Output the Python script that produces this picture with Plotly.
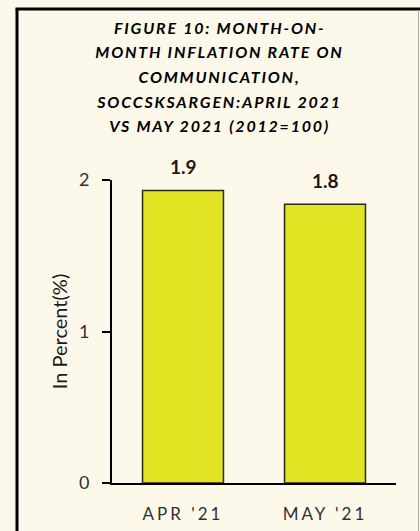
import json
import plotly.graph_objects as go

categories = ["APR '21", "MAY '21"]
values = [1.93, 1.84]
labels = ["1.9", "1.8"]
title_lines = [
    "FIGURE 10: MONTH-ON-",
    "MONTH INFLATION RATE ON",
    "COMMUNICATION,",
    "SOCCSKSARGEN:APRIL 2021",
    "VS MAY 2021 (2012=100)",
]
y_title = "In Percent(%)"

W, H = 420, 531
L, R, T, B = 112, 24, 180, 48
pw, ph = W - L - R, H - T - B

def px_x(x):
    return (x - L) / pw

def px_y(y):
    return (H - B - y) / ph

bg = "#FDF9EA"
FONT = "Lato"

fig = go.Figure()
fig.add_trace(go.Bar(
    x=categories, y=values,
    marker=dict(color="#E0E322", line=dict(color="#2a2a10", width=1.5)),
    width=0.57, hoverinfo="skip",
))

for c, v, t in zip(categories, values, labels):
    fig.add_annotation(x=c, y=v, text="<b>" + t + "</b>", showarrow=False,
                       yanchor="middle", yshift=24,
                       font=dict(family=FONT, size=19, color="#1a1a1a"))

for i, s in enumerate(title_lines):
    fig.add_annotation(xref="paper", yref="paper", x=px_x(219), y=px_y(27 + 24.7 * i),
                       xanchor="center", yanchor="middle",
                       text="<b><i>" + s + "</i></b>",
                       showarrow=False, align="center",
                       font=dict(family=FONT, size=16, color="#000000", weight=900))

fig.update_layout(
    width=W, height=H,
    margin=dict(l=L, r=R, t=T, b=B, autoexpand=False),
    paper_bgcolor=bg, plot_bgcolor=bg,
    showlegend=False,
    xaxis=dict(showline=True, linecolor="black", linewidth=2, ticks="",
               automargin=False, ticklabelstandoff=15,
               tickfont=dict(family=FONT, size=17, color="#303030"),
               showgrid=False),
    yaxis=dict(range=[0, 2], dtick=1, showline=True, linecolor="black", linewidth=2,
               ticks="outside", ticklen=8, tickwidth=2, tickcolor="black",
               automargin=False, ticklabelstandoff=9,
               showgrid=False, zeroline=False,
               tickfont=dict(family=FONT, size=18, color="#303030"),
               title=dict(text=y_title, standoff=6,
                          font=dict(family=FONT, size=20, color="#1a1a1a"))),
    shapes=[
        dict(type="line", xref="paper", yref="paper", x0=px_x(17), x1=px_x(17),
             y0=px_y(9), y1=px_y(540), line=dict(color="black", width=3)),
        dict(type="line", xref="paper", yref="paper", x0=px_x(15.5), x1=px_x(425),
             y0=px_y(9), y1=px_y(9), line=dict(color="black", width=3)),
        dict(type="line", xref="paper", yref="paper", x0=px_x(418.5), x1=px_x(418.5),
             y0=px_y(10), y1=px_y(540), line=dict(color="#b0b0a8", width=1)),
    ],
)

post = """
document.body.style.margin = '0';
document.body.style.background = '%s';
var titles = %s;
var gd = document.getElementById('{plot_id}');
gd.querySelectorAll('text.annotation-text').forEach(function (el) {
  if (titles.indexOf(el.textContent) >= 0) { el.style.letterSpacing = '1.8px'; }
});
gd.querySelectorAll('g.xtick text').forEach(function (el) { el.style.letterSpacing = '3px'; });
""" % (bg, json.dumps(title_lines))

fig.write_html("out.html", post_script=post, config={"displayModeBar": False})
